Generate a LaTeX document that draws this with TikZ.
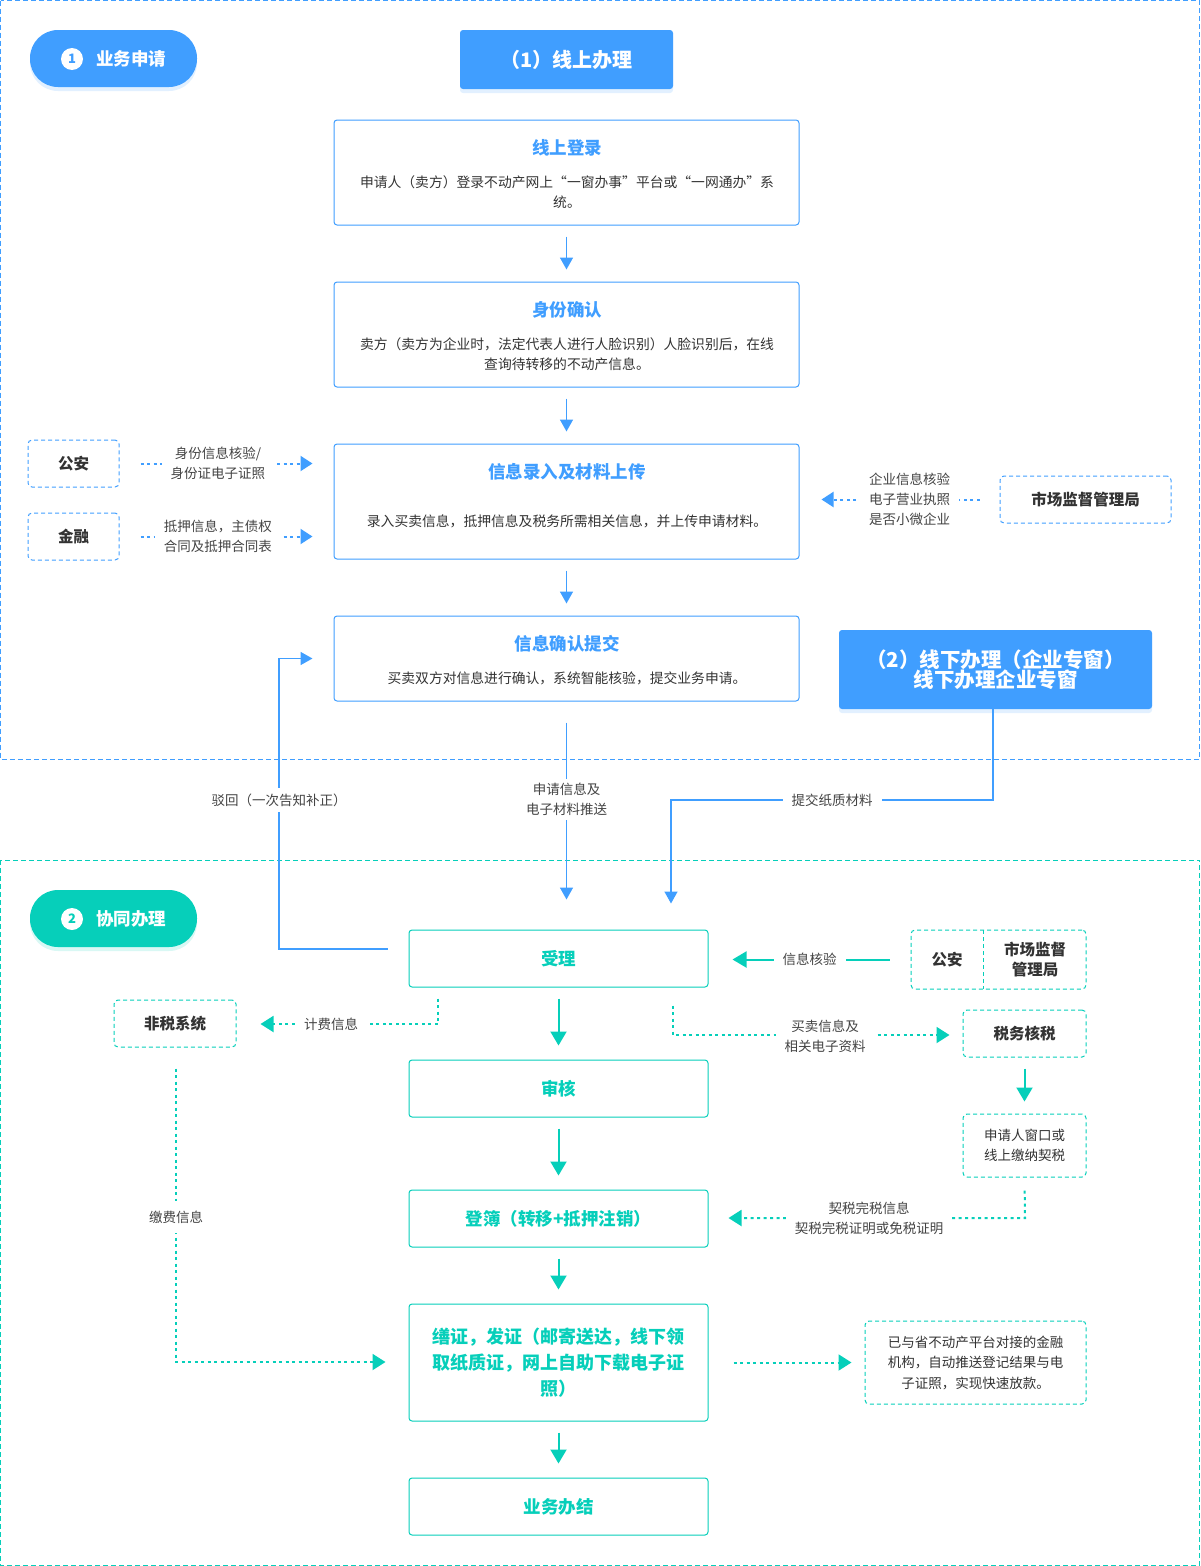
\documentclass[tikz,border=0pt]{standalone}
\usepackage{fontspec}
\setmainfont{Noto Sans CJK SC}
\XeTeXlinebreaklocale "zh"
\usetikzlibrary{arrows.meta,shadows,calc}
\definecolor{cblue}{HTML}{409EFF}
\definecolor{cteal}{HTML}{06CFBA}
\definecolor{ctext}{HTML}{333333}
\definecolor{clbl}{HTML}{444444}
\tikzset{
  bbox/.style={draw=cblue, line width=1pt, rounded corners=3pt, fill=white, inner sep=0pt},
  tbox/.style={draw=cteal, line width=1pt, rounded corners=3pt, fill=white, inner sep=0pt,
    text=cteal, font=\bfseries\fontsize{17.5}{26}\selectfont, align=center},
  dbbox/.style={draw=cblue, line width=1pt, dash pattern=on 4pt off 3pt, rounded corners=4pt,
    inner sep=0pt, text=ctext, font=\bfseries\fontsize{15.5}{20}\selectfont, align=center},
  dtbox/.style={draw=cteal, line width=1pt, dash pattern=on 4pt off 3pt, rounded corners=4pt,
    inner sep=0pt, text=ctext, font=\bfseries\fontsize{15.5}{20}\selectfont, align=center},
  ttl/.style={text=cblue, font=\bfseries\fontsize{17.5}{20}\selectfont, inner sep=0pt},
  body/.style={text=ctext, font=\fontsize{13.8}{20}\selectfont, align=center, inner sep=0pt},
  lbl/.style={text=clbl, font=\fontsize{13.5}{20}\selectfont, align=center, fill=white,
    inner xsep=9pt, inner ysep=2pt},
  fillhead/.style={fill=cblue, rounded corners=3pt, text=white, align=center,
    font=\bfseries\fontsize{20}{20}\selectfont, inner sep=0pt,
    drop shadow={shadow xshift=0pt, shadow yshift=-4pt, opacity=0.22, fill=cblue!70}},
  pill/.style={rounded corners=28pt, minimum width=167pt, minimum height=57pt, inner sep=0pt,
    drop shadow={shadow xshift=0pt, shadow yshift=-4pt, opacity=0.22, fill=#1!70}, fill=#1},
  numc/.style={circle, fill=white, minimum size=22pt, inner sep=0pt, text=#1,
    font=\bfseries\fontsize{13}{14}\selectfont},
  pilltxt/.style={text=white, font=\bfseries\fontsize{17.5}{20}\selectfont, inner sep=0pt},
  arrb/.style={cblue, line width=1.6pt, -{Triangle[length=12pt,width=13pt]}},
  arrt/.style={cteal, line width=2pt, -{Triangle[length=14pt,width=16pt]}},
  dotb/.style={cblue, line width=2pt, dash pattern=on 3pt off 3.5pt, -{Triangle[length=12pt,width=15pt]}},
  dott/.style={cteal, line width=2pt, dash pattern=on 3pt off 3.5pt, -{Triangle[length=13pt,width=16pt]}},
}
\begin{document}
\begin{tikzpicture}[x=1pt, y=-1pt]
\useasboundingbox (0,0) rectangle (1200,1566);
% section frames
\draw[cblue, line width=1pt, dash pattern=on 5pt off 3pt] (0.5,0.5) rectangle (1199.5,759);
\draw[cteal, line width=1pt, dash pattern=on 5pt off 3pt] (0.5,860) rectangle (1199.5,1565.5);

% ---------- section 1 ----------
\node[pill=cblue] (pill1) at (113.5,58.5) {};
\node[numc=cblue] (num1) at (72,59) {1};
\node[pilltxt] (pill1t) at (131,59) {业务申请};

\node[fillhead, minimum width=213pt, minimum height=59pt] (head1) at (566.5,59.5) {（1）线上办理};

\node[bbox, minimum width=465pt, minimum height=105pt] (login) at (566.5,172.5) {};
\node[ttl] (loginT) at (567,148) {线上登录};
\node[body] (loginB) at (567,192) {申请人（卖方）登录不动产网上“一窗办事”平台或“一网通办”系\\统。};

\node[bbox, minimum width=465pt, minimum height=105pt] (ident) at (566.5,334.5) {};
\node[ttl] (identT) at (567,310) {身份确认};
\node[body] (identB) at (567,354) {卖方（卖方为企业时，法定代表人进行人脸识别）人脸识别后，在线\\查询待转移的不动产信息。};

\node[bbox, minimum width=465pt, minimum height=115pt] (info) at (566.5,501.5) {};
\node[ttl] (infoT) at (567,472) {信息录入及材料上传};
\node[body] (infoB) at (567,521) {录入买卖信息，抵押信息及税务所需相关信息，并上传申请材料。};

\node[bbox, minimum width=465pt, minimum height=85pt] (submit) at (566.5,658.5) {};
\node[ttl] (submitT) at (567,644) {信息确认提交};
\node[body] (submitB) at (567,678) {买卖双方对信息进行确认，系统智能核验，提交业务申请。};

\draw[arrb, shorten <=11pt, shorten >=12pt] (login.south) -- (ident.north);
\draw[arrb, shorten <=11pt, shorten >=12pt] (ident.south) -- (info.north);
\draw[arrb, shorten <=11pt, shorten >=12pt] (info.south) -- (submit.north);

\node[dbbox, minimum width=91pt, minimum height=47pt] (ga1) at (73.5,463.5) {公安};
\node[dbbox, minimum width=91pt, minimum height=47pt] (jr1) at (73.5,536.5) {金融};
\draw[dotb, shorten <=21pt, shorten >=21pt] (ga1.east) -- (ga1.east -| info.west)
  node[lbl, pos=0.46] (gaL) {身份信息核验/\\身份证电子证照};
\draw[dotb, shorten <=21pt, shorten >=21pt] (jr1.east) -- (jr1.east -| info.west)
  node[lbl, pos=0.46] (jrL) {抵押信息，主债权\\合同及抵押合同表};

\node[dbbox, minimum width=171pt, minimum height=47pt] (sc1) at (1085.5,499.5) {市场监督管理局};
\draw[dotb, shorten <=20pt, shorten >=22pt] (sc1.west) -- (sc1.west -| info.east)
  node[lbl, pos=0.45] (scL) {企业信息核验\\电子营业执照\\是否小微企业};

\node[fillhead, minimum width=313pt, minimum height=79pt, font=\bfseries\fontsize{20.5}{20}\selectfont] (head2) at (995.5,669.5) {（2）线下办理（企业专窗）\\线下办理企业专窗};

% ---------- section 2 ----------
\node[pill=cteal] (pill2) at (113.5,918.5) {};
\node[numc=cteal] (num2) at (72,919) {2};
\node[pilltxt] (pill2t) at (131,919) {协同办理};

\node[tbox, minimum width=299pt, minimum height=57pt] (shouli) at (558.5,958.5) {受理};
\node[tbox, minimum width=299pt, minimum height=57pt] (shenhe) at (558.5,1088.5) {审核};
\node[tbox, minimum width=299pt, minimum height=57pt] (dengbu) at (558.5,1218.5) {登簿（转移+抵押注销）};
\node[tbox, minimum width=299pt, minimum height=117pt, font=\bfseries\fontsize{18}{26}\selectfont] (shanz) at (558.5,1362.5) {缮证，发证（邮寄送达，线下领\\取纸质证，网上自助下载电子证\\照）};
\node[tbox, minimum width=299pt, minimum height=57pt] (banjie) at (558.5,1506.5) {业务办结};

\draw[arrt, shorten <=11pt, shorten >=14pt] (shouli.south) -- (shenhe.north);
\draw[arrt, shorten <=11pt, shorten >=14pt] (shenhe.south) -- (dengbu.north);
\draw[arrt, shorten <=11pt, shorten >=14pt] (dengbu.south) -- (shanz.north);
\draw[arrt, shorten <=11pt, shorten >=14pt] (shanz.south) -- (banjie.north);

% cross-section connectors
\draw[arrb, shorten <=21pt, shorten >=30pt] (submit.south) -- (submit.south |- shouli.north)
  node[lbl, pos=0.43, inner ysep=4pt] (sqL) {申请信息及\\电子材料推送};
\coordinate (zk) at (671,800);
\draw[arrb, shorten >=26pt] ([xshift=-2.5pt]head2.south) |- (zk) -- (zk |- shouli.north);
\node[lbl] (zkL) at (832,800) {提交纸质材料};
\coordinate (bh) at (279,949);
\draw[arrb, shorten <=21pt, shorten >=21pt] ([yshift=9.5pt]shouli.west) -- (bh) |- (submit.west);
\node[lbl, inner ysep=6pt] (bhL) at (279,800) {驳回（一次告知补正）};

% right side of section 2
\node[dtbox, minimum width=175pt, minimum height=59pt] (gasc) at (998.5,959.5) {};
\draw[cteal, line width=1pt, dash pattern=on 4pt off 3pt] (983,930) -- (983,989);
\node[text=ctext, font=\bfseries\fontsize{15.5}{20}\selectfont] (ga2) at (947,960) {公安};
\node[text=ctext, font=\bfseries\fontsize{15.5}{20}\selectfont, align=center] (sc2) at (1035,960) {市场监督\\管理局};
\draw[arrt, shorten <=21pt, shorten >=24pt] (gasc.west) -- (gasc.west -| shouli.east)
  node[lbl, pos=0.5] (hyL) {信息核验};

\node[dtbox, minimum width=122pt, minimum height=47pt] (feishui) at (175,1023.5) {非税系统};
\coordinate (jf) at (438,1024);
\draw[dott, shorten <=11pt, shorten >=24pt] ([xshift=-120.5pt]shouli.south) -- (jf) -- (jf -| feishui.east);
\node[lbl] (jfL) at (331,1024) {计费信息};

\coordinate (jf2) at (176,1362);
\draw[dott, shorten <=21pt, shorten >=23pt] ([xshift=1pt]feishui.south) -- (jf2) -- (jf2 -| shanz.west);
\node[lbl, inner ysep=10pt] (jfeiL) at (176,1217) {缴费信息};

\node[dtbox, minimum width=123pt, minimum height=47pt] (tax) at (1024.5,1033.5) {税务核税};
\coordinate (mm) at (673,1035);
\draw[dott, shorten <=18pt, shorten >=13pt] ([xshift=114.5pt]shouli.south) -- (mm) -- (mm -| tax.west);
\node[lbl] (mmL) at (825,1036) {买卖信息及\\相关电子资料};

\node[dtbox, minimum width=123pt, minimum height=63pt, font=\fontsize{13.5}{20}\selectfont] (pay) at (1024.5,1145.5) {申请人窗口或\\线上缴纳契税};
\draw[arrt, shorten <=11pt, shorten >=12pt] (tax.south) -- (pay.north);

\coordinate (qs) at (1025,1218);
\draw[dott, shorten <=13pt, shorten >=20pt] (pay.south) -- (qs) -- (qs -| dengbu.east);
\node[lbl] (qsL) at (869,1218) {契税完税信息\\契税完税证明或免税证明};

\node[dtbox, minimum width=221pt, minimum height=83pt, font=\fontsize{13.5}{20.5}\selectfont] (fin) at (975.5,1362.5) {已与省不动产平台对接的金融\\机构，自动推送登记结果与电\\子证照，实现快速放款。};
\draw[dott, shorten <=25pt, shorten >=13pt] (shanz.east) -- (fin.west);
\end{tikzpicture}
\end{document}
